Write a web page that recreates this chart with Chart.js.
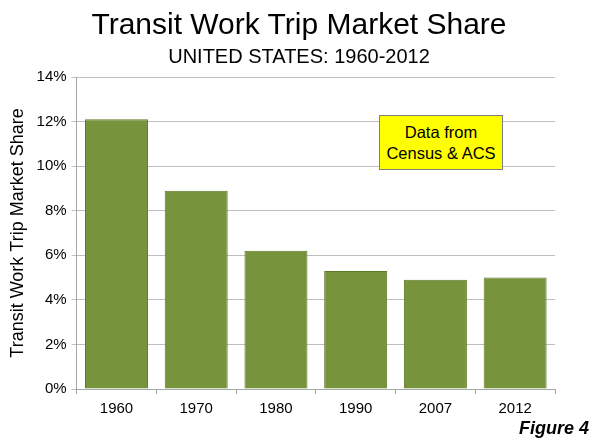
<!DOCTYPE html>
<html>
<head>
<meta charset="utf-8">
<script src="https://cdn.jsdelivr.net/npm/chart.js@4"></script>
<style>
  body { margin: 0; background: #fff; }
  #wrap { position: relative; width: 595px; height: 442px; font-family: "Liberation Sans", Arial, sans-serif; color: #000; }
  #title { position: absolute; left: 0; width: 598px; top: 6px; text-align: center; font-size: 30px; line-height: 36px; }
  #subtitle { position: absolute; left: 0; width: 598px; top: 44px; text-align: center; font-size: 20px; line-height: 24px; }
  #note {
    position: absolute; left: 379px; top: 115px; width: 124px; height: 55px;
    background: #ffff00; border: 1px solid #7f7f7f; box-sizing: border-box;
    font-size: 16.5px; line-height: 21px; text-align: center; padding-top: 6px;
  }
  #fig {
    position: absolute; right: 6px; top: 418px;
    font-size: 18px; font-weight: bold; font-style: italic;
  }
</style>
</head>
<body>
<div id="wrap">
  <canvas id="barChart" width="595" height="442"></canvas>
  <div id="title">Transit Work Trip Market Share</div>
  <div id="subtitle">UNITED STATES: 1960-2012</div>
  <div id="note">Data from<br>Census &amp; ACS</div>
  <div id="fig">Figure 4</div>
</div>
<script>
// Transit share of work trips, US
var years = ['1960', '1970', '1980', '1990', '2007', '2012'];
var transitShare = [12.1, 8.9, 6.2, 5.3, 4.9, 5.0];

var sans = '"Liberation Sans", Arial, sans-serif';

var ctxBar = document.getElementById('barChart').getContext('2d');
var barChart = new Chart(ctxBar, {
    type: 'bar',
    data: {
        labels: years,
        datasets: [{
            label: 'Transit Work Trip Market Share',
            data: transitShare,
            backgroundColor: '#77933c',
            borderColor: '#5e7a2a',
            borderWidth: 1,
            categoryPercentage: 1.0,
            barPercentage: 0.79
        }]
    },
    options: {
        responsive: false,
        animation: false,
        layout: {
            padding: { left: 7, right: 40, top: 77, bottom: 18 }
        },
        plugins: {
            legend: { display: false },
            tooltip: { enabled: false }
        },
        scales: {
            y: {
                min: 0,
                max: 14,
                ticks: {
                    stepSize: 2,
                    color: '#000',
                    font: { family: sans, size: 15 },
                    padding: 5,
                    callback: function (v) { return v + '%'; }
                },
                grid: {
                    color: '#bfbfbf',
                    lineWidth: 1,
                    drawTicks: true,
                    tickLength: 5
                },
                border: { color: '#a6a6a6' },
                title: {
                    display: true,
                    text: 'Transit Work Trip Market Share',
                    color: '#000',
                    font: { family: sans, size: 18 },
                    padding: { top: 0, bottom: 3 }
                }
            },
            x: {
                ticks: {
                    color: '#000',
                    font: { family: sans, size: 15 },
                    padding: 6
                },
                grid: {
                    display: true,
                    drawOnChartArea: false,
                    color: '#a6a6a6',
                    tickLength: 5,
                    offset: true
                },
                border: { color: '#a6a6a6' }
            }
        }
    }
});
</script>
</body>
</html>
